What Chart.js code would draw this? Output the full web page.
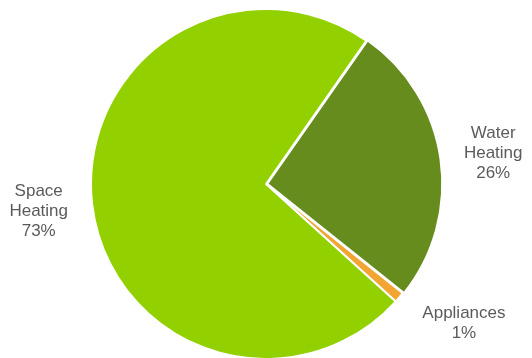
<!DOCTYPE html>
<html>
<head>
<meta charset="utf-8">
<script src="https://cdn.jsdelivr.net/npm/chart.js@4/dist/chart.umd.min.js"></script>
<style>
  html, body { margin: 0; padding: 0; background: #ffffff; }
  #wrap { width: 532px; height: 358px; }
</style>
</head>
<body>
<div id="wrap"><canvas id="chart" width="532" height="358"></canvas></div>
<script>
// Household energy use by end use
const categories = ['Water Heating', 'Appliances', 'Space Heating'];
const shares = [26, 1, 73];
const sliceColors = ['#668c1e', '#f2a532', '#92d000'];
const sliceOffsets = [5, 0, 0];

// Labels sit outside the pie, along each slice's mid-angle, kept inside the canvas
const outsideLabels = {
  id: 'outsideLabels',
  afterDatasetsDraw(chart) {
    const ctx = chart.ctx;
    const meta = chart.getDatasetMeta(0);
    const lineH = 20, capH = 12.5, gap = 23, margin = 20;
    ctx.save();
    ctx.font = '17px "Liberation Sans", Arial, sans-serif';
    ctx.fillStyle = '#5b5b5b';
    ctx.textAlign = 'center';
    ctx.textBaseline = 'alphabetic';
    meta.data.forEach((arc, i) => {
      const p = arc.getProps(['x', 'y', 'startAngle', 'endAngle', 'outerRadius'], true);
      const lines = categories[i].split(' ').concat([chart.data.datasets[0].data[i] + '%']);
      const w = Math.max(...lines.map(l => ctx.measureText(l).width));
      const h = (lines.length - 1) * lineH + capH;
      const mid = (p.startAngle + p.endAngle) / 2;
      const dx = Math.cos(mid), dy = Math.sin(mid);
      const R = p.outerRadius + gap;
      // nearest corner of the text box ends up at distance R from the centre
      const cx0 = -Math.sign(dx) * w / 2, cy0 = -Math.sign(dy) * h / 2;
      const dot = dx * cx0 + dy * cy0;
      const t = -dot + Math.sqrt(Math.max(dot * dot - (cx0 * cx0 + cy0 * cy0) + R * R, 0));
      let bx = p.x + t * dx, by = p.y + t * dy;
      const minY = margin + h / 2, maxY = chart.height - margin - h / 2;
      if (by > maxY || by < minY) {
        by = Math.min(Math.max(by, minY), maxY);
        const ny = Math.abs(by - p.y) - h / 2;
        const nx = Math.sqrt(Math.max(R * R - ny * ny, 0));
        bx = p.x + Math.sign(dx) * (nx + w / 2);
      }
      const top = by - h / 2;
      lines.forEach((l, k) => ctx.fillText(l, bx, top + capH + k * lineH));
    });
    ctx.restore();
  }
};

new Chart(document.getElementById('chart'), {
  type: 'pie',
  data: {
    labels: categories,
    datasets: [{
      data: shares,
      backgroundColor: sliceColors,
      borderColor: '#ffffff',
      borderWidth: 2,
      offset: sliceOffsets,
      hoverOffset: 0,
      clip: false
    }]
  },
  options: {
    responsive: false,
    devicePixelRatio: 1,
    animation: false,
    rotation: 35,
    radius: 175,
    layout: { padding: { top: 10, bottom: 0, left: 0, right: 0 } },
    plugins: {
      legend: { display: false },
      tooltip: { enabled: false }
    },
    events: []
  },
  plugins: [outsideLabels]
});
</script>
</body>
</html>
